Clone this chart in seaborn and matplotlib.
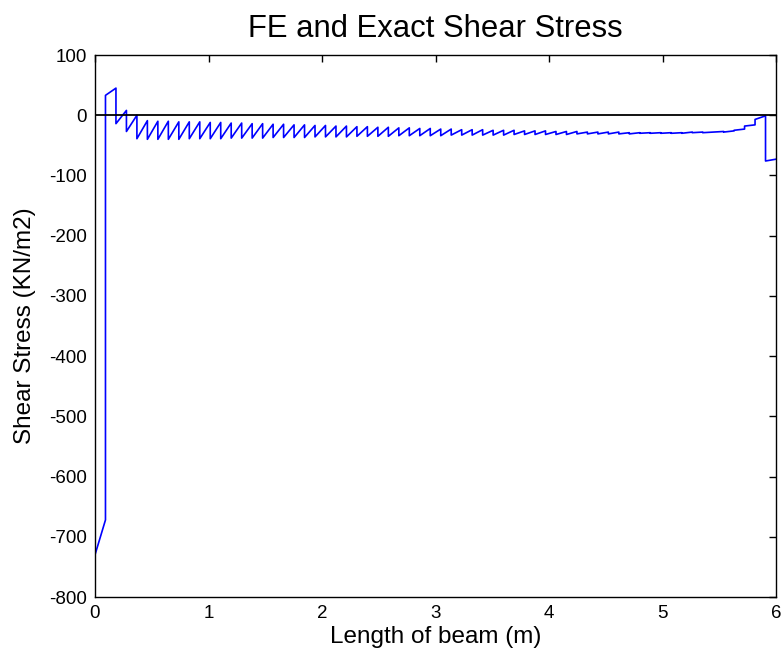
import numpy as np
import pandas as pd
import matplotlib
matplotlib.use("Agg")
import matplotlib.pyplot as plt
import seaborn as sns

# Beam and mesh
beam_length = 6.0
n_elements = 65

# FE shear stress per element: value at the left and right end of each element (KN/m2)
stress_start = [
    -730, 33, -14, -27, -39, -40, -40, -40, -40, -39,
    -39, -39, -39, -38, -38, -38, -38, -37, -37, -37,
    -37, -36, -36, -36, -36, -35, -35, -35, -35, -34,
    -34, -34, -34, -34, -33, -33, -33, -33, -33, -33,
    -32, -32, -32, -32, -32, -32, -31, -31, -31, -31,
    -31, -31, -30, -30, -30, -30, -30, -29, -29, -28,
    -28, -25, -18, -7, -76,
]
stress_end = [
    -672, 45, 8, 0, -9, -10, -10, -11, -11, -11,
    -12, -12, -13, -13, -14, -14, -15, -15, -16, -16,
    -17, -17, -18, -18, -19, -19, -20, -20, -21, -21,
    -22, -22, -23, -23, -24, -24, -24, -25, -25, -25,
    -26, -26, -26, -27, -27, -27, -28, -28, -28, -28,
    -29, -29, -29, -29, -29, -29, -28, -28, -28, -27,
    -26, -23, -16, -1, -73,
]

# Exact shear stress reference line
exact_x = [0.0, 6.0]
exact_y = [0.0, 0.0]

x_ticks = [0, 1, 2, 3, 4, 5, 6]
y_ticks = [100, 0, -100, -200, -300, -400, -500, -600, -700, -800]

# Node coordinates and the piecewise-linear FE curve (jumps at element boundaries)
nodes = np.linspace(0.0, beam_length, n_elements + 1)
xs, ys = [], []
for i in range(n_elements):
    xs += [nodes[i], nodes[i + 1]]
    ys += [stress_start[i], stress_end[i]]
fe = pd.DataFrame({"x": xs, "y": ys})
exact = pd.DataFrame({"x": exact_x, "y": exact_y})

sns.set_theme(style="white")
plt.rcParams["font.family"] = ["Liberation Sans", "DejaVu Sans"]
plt.rcParams["text.color"] = "black"
plt.rcParams["axes.labelcolor"] = "black"

fig = plt.figure(figsize=(7.83, 6.59), dpi=100)
ax = fig.add_axes([95 / 783, 1 - 597 / 659, (776 - 95) / 783, (597 - 55) / 659])

sns.lineplot(data=fe, x="x", y="y", sort=False, estimator=None,
             color="#0000ff", linewidth=1.2, ax=ax)
sns.lineplot(data=exact, x="x", y="y", sort=False, estimator=None,
             color="black", linewidth=1.3, ax=ax)

ax.set_xlim(0, 6)
ax.set_ylim(-800, 100)
ax.set_xticks(x_ticks)
ax.set_yticks(y_ticks)
ax.set_xticklabels([str(t) for t in x_ticks])
ax.set_yticklabels([str(t) for t in y_ticks])
ax.tick_params(direction="in", length=5, width=1, colors="black",
               top=True, right=True, labelsize=13.5, pad=6)
for s in ax.spines.values():
    s.set_visible(True)
    s.set_color("black")
    s.set_linewidth(1.0)

ax.set_xlabel("Length of beam (m)", fontsize=17.5, labelpad=3, color="black")
ax.set_ylabel("Shear Stress (KN/m2)", fontsize=17.5, labelpad=9, color="black")
ax.set_title("FE and Exact Shear Stress", fontsize=22.3, pad=13, color="black")

fig.savefig("out.png", dpi=100, facecolor="white")
